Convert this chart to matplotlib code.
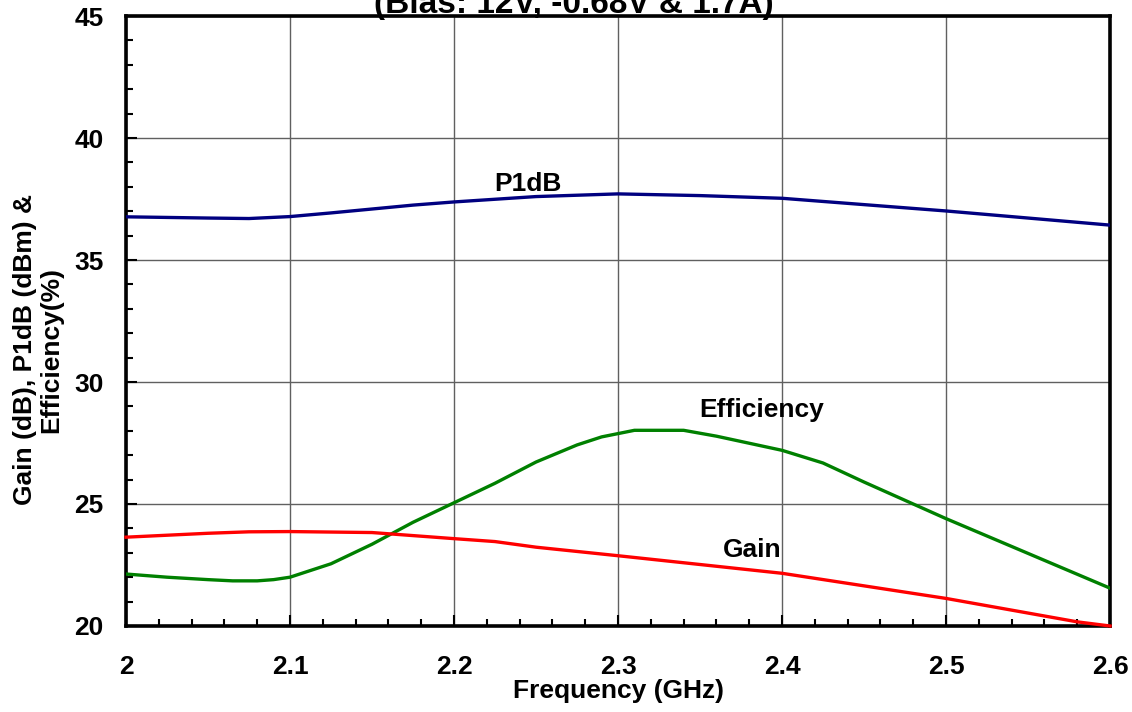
import numpy as np
import matplotlib
matplotlib.use("Agg")
import matplotlib.pyplot as plt
from matplotlib.ticker import MultipleLocator

plt.rcParams['font.family'] = ['Liberation Sans', 'DejaVu Sans']
plt.rcParams['font.weight'] = 'bold'

# Measured PA performance vs frequency
p1db_freq = [2.0, 2.05, 2.075, 2.1, 2.125, 2.175, 2.2, 2.25, 2.3, 2.35, 2.4, 2.5, 2.6]
p1db_dbm = [36.77, 36.72, 36.70, 36.78, 36.93, 37.25, 37.38, 37.60, 37.71, 37.64, 37.53, 37.01, 36.43]

eff_freq = [2.0, 2.025, 2.05, 2.065, 2.08, 2.09, 2.1, 2.125, 2.15, 2.175, 2.2, 2.225,
            2.25, 2.275, 2.29, 2.31, 2.34, 2.36, 2.4, 2.425, 2.45, 2.5, 2.6]
eff_pct = [22.13, 22.0, 21.9, 21.85, 21.85, 21.9, 22.0, 22.55, 23.35, 24.25, 25.05, 25.85,
           26.72, 27.42, 27.75, 28.02, 28.02, 27.78, 27.2, 26.68, 25.9, 24.4, 21.55]

gain_freq = [2.0, 2.05, 2.075, 2.1, 2.15, 2.2, 2.225, 2.25, 2.3, 2.4, 2.5, 2.58, 2.6]
gain_db = [23.64, 23.80, 23.86, 23.87, 23.83, 23.58, 23.46, 23.23, 22.88, 22.16, 21.13, 20.17, 20.0]

fig = plt.figure(figsize=(11.32, 7.12), dpi=100)
ax = fig.add_axes([0.1113, 0.1208, 0.8693, 0.8567])

ax.plot(p1db_freq, p1db_dbm, color='#000080', lw=2.4, zorder=3)
ax.plot(eff_freq, eff_pct, color='#008000', lw=2.4, zorder=3)
ax.plot(gain_freq, gain_db, color='#ff0000', lw=2.4, zorder=3, clip_on=False)

# curve labels
ax.text(2.2448, 37.83, 'P1dB', fontsize=19, fontweight='bold', ha='center', va='baseline')
ax.text(2.3878, 28.58, 'Efficiency', fontsize=19, fontweight='bold', ha='center', va='baseline')
ax.text(2.3817, 22.83, 'Gain', fontsize=19, fontweight='bold', ha='center', va='baseline')

ax.set_xlim(2.0, 2.6)
ax.set_ylim(20, 45)
ax.xaxis.set_minor_locator(MultipleLocator(0.02))
ax.yaxis.set_major_locator(MultipleLocator(5))
ax.yaxis.set_minor_locator(MultipleLocator(1))
ax.set_xticks([2.0, 2.1, 2.2, 2.3, 2.4, 2.5, 2.6])
ax.set_xticklabels(['2', '2.1', '2.2', '2.3', '2.4', '2.5', '2.6'])

ax.grid(True, which='major', color='#606060', lw=1.0, zorder=1)
ax.tick_params(which='major', direction='in', length=8, width=1.5, labelsize=19)
ax.tick_params(which='minor', direction='in', length=5, width=1.5)
ax.tick_params(axis='x', which='major', pad=21)
ax.tick_params(axis='y', which='major', pad=16)
for lab in ax.get_xticklabels() + ax.get_yticklabels():
    lab.set_fontweight('bold')

for side in ['left', 'bottom', 'right', 'top']:
    ax.spines[side].set_linewidth(2.6)

ax.set_xlabel('Frequency (GHz)', fontsize=19, fontweight='bold', labelpad=0)
ax.set_ylabel('Gain (dB), P1dB (dBm) &\nEfficiency(%)', fontsize=19, fontweight='bold',
              labelpad=8, linespacing=1.1)
ax.yaxis.label.set_y(0.4525)

fig.text(0.5066, 0.9817, '(Bias: 12V, -0.68V & 1.7A)', fontsize=24, fontweight='bold',
         ha='center', va='baseline')

fig.savefig('out.png', dpi=100)
